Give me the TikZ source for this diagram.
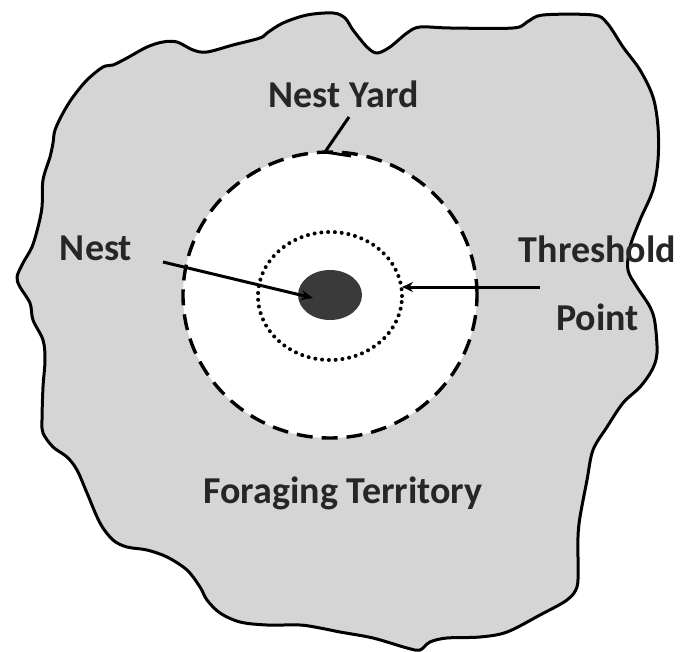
\documentclass[tikz,border=0pt]{standalone}
\usepackage{fontspec}
\setmainfont{Carlito}
\usetikzlibrary{shapes.geometric,arrows.meta}
\definecolor{terrfill}{HTML}{D5D5D5}
\definecolor{nestfill}{HTML}{3A3A3A}
\definecolor{txt}{HTML}{262626}
\begin{document}
\begin{tikzpicture}[x=1pt,y=-1pt,
  lbl/.style={font=\fontsize{38}{45}\selectfont\bfseries, text=txt, inner sep=0pt, anchor=base},
  pointer/.style={line width=3pt, draw=black},
  yardring/.style={ellipse, draw=black, fill=white, line width=3.4pt, dash pattern=on 16pt off 9pt, inner sep=0pt},
  thrring/.style={ellipse, draw=black, line width=4pt, line cap=round, dash pattern=on 0pt off 6.8pt, inner sep=0pt},
  nestblob/.style={ellipse, fill=nestfill, draw=none, inner sep=0pt}]
\useasboundingbox (0,0) rectangle (693,652);
% foraging territory outline
\draw[line width=3pt, fill=terrfill, line join=round] plot[smooth cycle, tension=0.55] coordinates {
(307,15) (333,13) (345,18) (353,30) (367,47) (377,53) (390,47) (407,33) (420,27) (450,28)
(513,28) (527,22) (543,15) (593,15) (607,23) (623,47) (640,70) (653,97) (658,127) (658,160)
(653,190) (640,220) (630,247) (628,270) (637,287) (650,307) (655,323) (657,353) (652,370)
(640,387) (623,403) (607,427) (593,450) (587,480) (580,517) (578,537) (578,567) (577,587)
(567,600) (540,615) (507,632) (480,637) (447,638) (430,642) (420,650) (407,648) (373,638)
(340,632) (320,628) (300,625) (267,625) (240,622) (220,613) (207,600) (200,587) (187,570)
(167,557) (147,550) (127,547) (113,540) (100,523) (87,493) (77,470) (67,457) (53,447)
(43,433) (42,420) (43,387) (45,360) (43,340) (33,320) (30,303) (20,287) (17,277) (23,263)
(32,247) (38,227) (42,207) (43,180) (50,157) (53,143) (55,130) (63,113) (73,97) (87,80)
(103,67) (113,65) (127,58) (147,47) (163,42) (177,42) (193,50) (207,52) (233,45) (260,38)
(267,33) (283,23)};
% rings and nest
\node[yardring, minimum width=294pt, minimum height=286pt] (yard) at (330,295) {};
\node[thrring, minimum width=144pt, minimum height=128pt] (thr) at (330,296) {};
\node[nestblob, minimum width=64pt, minimum height=50pt] (nest) at (330,295) {};
% labels
\node[lbl] (yardlbl) at (343.5,108) {Nest Yard};
\node[lbl] (nestlbl) at (96,261) {Nest};
\node[lbl] (thrlbl) at (597.5,262) {Threshold};
\node[lbl] (pointlbl) at (597.5,330) {Point};
\node[lbl] (terrlbl) at (343,503) {Foraging Territory};
% connector ends
\coordinate (yardfrom) at (349,117);
\coordinate (yardto) at (325,152);
\coordinate (yardbarb) at (351,156);
\coordinate (nestfrom) at (163,262);
\coordinate (nestto) at (313,298);
\coordinate (thrfrom) at (540,287);
\coordinate (thrto) at (402,287);
% pointers
\draw[pointer, line join=miter] (yardfrom) -- (yardto) -- (yardbarb);
\draw[pointer, -{Stealth[length=12pt, width=10pt]}] (nestfrom) -- (nestto);
\draw[pointer, -{Stealth[length=11pt, width=10pt]}] (thrfrom) -- (thrto);
\end{tikzpicture}
\end{document}
